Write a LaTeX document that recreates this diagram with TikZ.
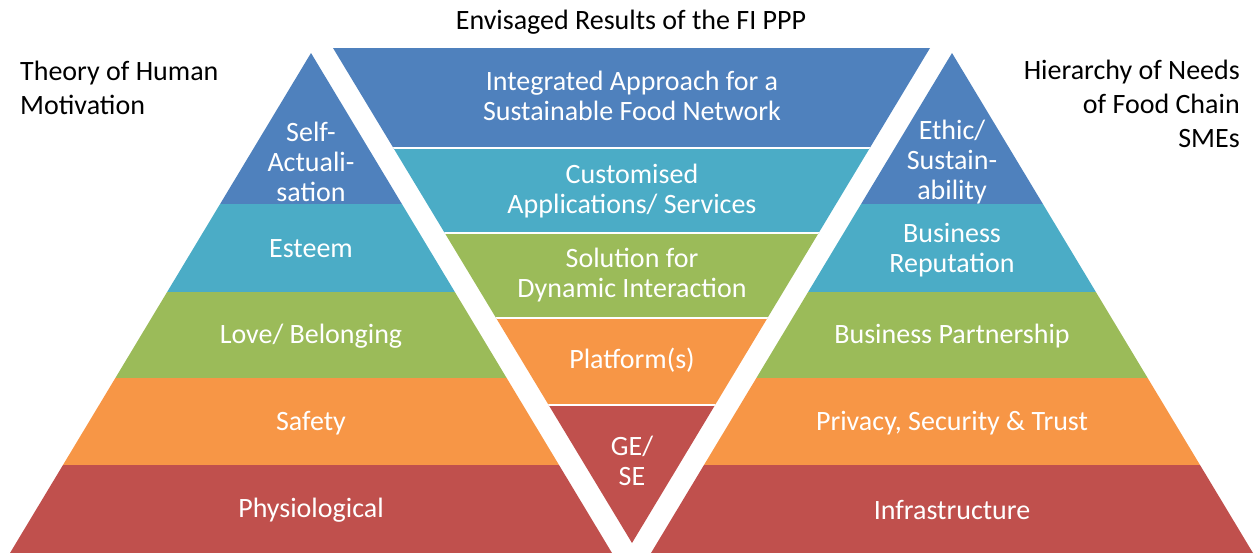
\documentclass[tikz,border=0pt]{standalone}
\usepackage{fontspec}
\setmainfont{Carlito}
\definecolor{bandblue}{HTML}{4F81BD}
\definecolor{bandteal}{HTML}{4BACC6}
\definecolor{bandgreen}{HTML}{9BBB59}
\definecolor{bandorange}{HTML}{F79646}
\definecolor{bandred}{HTML}{C0504D}
\begin{document}
\begin{tikzpicture}[x=1pt,y=-1pt,
  lbl/.style={text=white,align=center,inner sep=0pt,font=\fontsize{28}{30}\selectfont},
  ttl/.style={text=black,inner sep=0pt,font=\fontsize{28}{34}\selectfont}]
\useasboundingbox (0,0) rectangle (1255,552);

% left pyramid
\begin{scope}
\clip (311,53) -- (612,553) -- (10,553) -- cycle;
\fill[bandblue] (0,40) rectangle (640,204);
\fill[bandteal] (0,204) rectangle (640,292);
\fill[bandgreen] (0,292) rectangle (640,378);
\fill[bandorange] (0,378) rectangle (640,465);
\fill[bandred] (0,465) rectangle (640,553);
\end{scope}

% right pyramid
\begin{scope}
\clip (952,53) -- (1253,553) -- (651,553) -- cycle;
\fill[bandblue] (640,40) rectangle (1255,204);
\fill[bandteal] (640,204) rectangle (1255,292);
\fill[bandgreen] (640,292) rectangle (1255,378);
\fill[bandorange] (640,378) rectangle (1255,465);
\fill[bandred] (640,465) rectangle (1255,553);
\end{scope}

% inverted pyramid
\begin{scope}
\clip (333,48) -- (930,48) -- (632,543) -- cycle;
\fill[bandblue] (320,40) rectangle (940,148);
\fill[bandteal] (320,148) rectangle (940,233);
\fill[bandgreen] (320,233) rectangle (940,318);
\fill[bandorange] (320,318) rectangle (940,405);
\fill[bandred] (320,405) rectangle (940,550);
\draw[white,line width=2pt] (320,148) -- (940,148);
\draw[white,line width=2pt] (320,233) -- (940,233);
\draw[white,line width=2pt] (320,318) -- (940,318);
\draw[white,line width=2pt] (320,405) -- (940,405);
\end{scope}

% titles
\node[ttl] (results) at (631,22) {Envisaged Results of the FI PPP};
\node[ttl,align=left,anchor=west] (human) at (20,88) {Theory of Human\\Motivation};
\node[ttl,align=right,anchor=east] (needs) at (1240,104) {Hierarchy of Needs\\of Food Chain\\SMEs};

% human motivation
\node[lbl] (selfact) at (311,162) {Self-\\Actuali-\\sation};
\node[lbl] (esteem) at (311,249) {Esteem};
\node[lbl] (love) at (311,336) {Love/ Belonging};
\node[lbl] (safety) at (311,423) {Safety};
\node[lbl] (physio) at (311,510) {Physiological};

% results
\node[lbl] (approach) at (632,96) {Integrated Approach for a\\Sustainable Food Network};
\node[lbl] (apps) at (632,191) {Customised\\Applications/ Services};
\node[lbl] (solution) at (632,275) {Solution for\\Dynamic Interaction};
\node[lbl] (platform) at (632,360) {Platform(s)};
\node[lbl] (gese) at (632,461) {GE/\\SE};

% needs of SMEs
\node[lbl] (ethic) at (952,162) {Ethic/\\Sustain-\\ability};
\node[lbl] (reputation) at (952,250) {Business\\Reputation};
\node[lbl] (partner) at (952,336) {Business Partnership};
\node[lbl] (privacy) at (952,423) {Privacy, Security \& Trust};
\node[lbl] (infra) at (952,510) {Infrastructure};
\end{tikzpicture}
\end{document}
